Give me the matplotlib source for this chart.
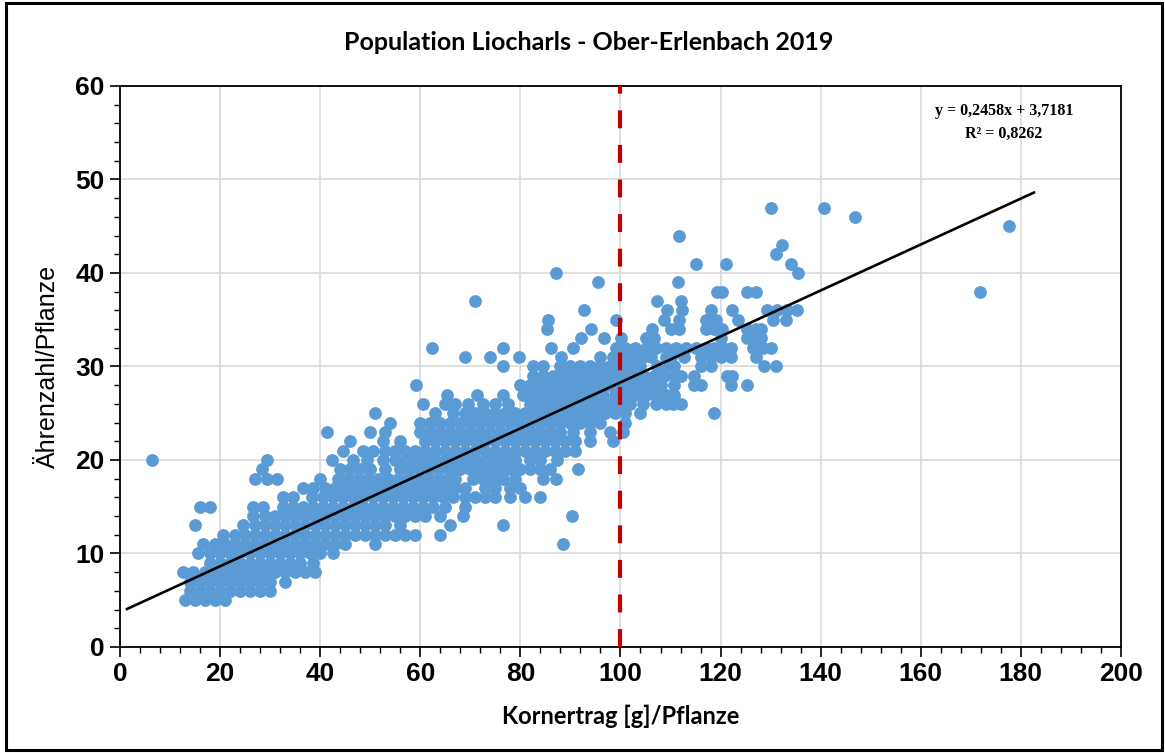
import numpy as np
import matplotlib
matplotlib.use("Agg")
import matplotlib.pyplot as plt
from matplotlib.patches import Rectangle
from matplotlib.ticker import MultipleLocator

# Kornertrag [g]/Pflanze je Ährenzahl (y-Wert steht im Namen)
x_05 = [13, 15, 17, 19, 21]
x_06 = [14, 16, 18, 20, 22, 24, 26, 28, 30]
x_07 = [14, 16, 18, 20, 22, 24, 26, 28, 30, 33]
x_08 = [12.5, 14.5, 17, 19, 21, 23, 25, 27, 29, 31, 33, 35, 37, 39]
x_09 = [18, 20, 22, 24, 26, 28, 30, 32, 34, 36, 38.5]
x_10 = [15.5, 18, 20, 22, 24, 26, 28, 30, 32, 34, 36, 38, 40, 42.5]
x_11 = [16.5, 19, 21, 23, 25, 27, 29, 31, 33, 35, 37, 39, 41, 43, 45, 51, 88.5]
x_12 = [20.5, 23, 25, 27, 29, 31, 33, 35, 37, 39, 41, 43, 45, 47, 49, 51, 53, 55, 57, 59, 64]
x_13 = [15, 24.5, 27, 29, 31, 33, 35, 37, 39, 41, 43, 45, 47, 49, 51, 53, 56, 66, 76.5]
x_14 = [26.5, 29, 31, 33, 35, 37, 39, 41, 43, 45, 47, 49, 51, 53, 55, 57, 59, 61, 64, 68.5, 90.3]
x_15 = [16, 18, 26.5, 28.5, 32.5, 34.5, 36.5, 38.5, 40.5, 42.5, 44.5, 46.5, 48.5, 50.5,
        52.5, 54.5, 56.5, 58.5, 60.5, 62.5, 65, 69]
x_16 = [32.5, 34.5, 38.3, 40.5, 42.5, 44.5, 46.5, 48.5, 50.5, 52.5, 54.5, 56.5, 58.5, 60.5,
        62.5, 64.5, 66.5, 69, 71, 73, 75, 78, 81, 84]
x_17 = [36.5, 38.5, 41, 43, 45, 47, 49, 51, 53, 55, 57, 59, 61, 63, 65, 67, 69, 73, 75, 78, 80]
x_18 = [27, 29.3, 31.3, 40, 43.5, 45.5, 47.5, 49.5, 51.5, 53.5, 55.5, 57.5, 59.5, 61.5, 63.5,
        65.5, 67, 70.5, 72.5, 74.5, 76.5, 79, 84.6, 87.2]
x_19 = [28.3, 44, 46, 48, 50, 53, 56, 58, 60, 62, 64, 66, 68, 70, 72, 74, 76, 78, 80, 82, 84,
        86, 91.5]
x_20 = [6.4, 29.3, 42.3, 46.6, 49.3, 52.6, 55, 57, 59, 61, 63, 65, 67, 69, 71, 73, 75, 77, 79,
        82, 84, 87.3]
x_21 = [44.6, 48.5, 50.6, 53, 55, 57, 59, 61, 63, 65, 67, 69, 71, 73, 75, 77, 79, 81, 83, 85,
        87, 89, 91]
x_22 = [46, 52.6, 56, 61, 63, 65, 67, 69, 71, 73, 75, 77, 79, 81, 83, 85, 87, 89, 91, 94, 98.6]
x_23 = [41.3, 50, 53, 60, 62, 64, 66, 68, 70, 72, 74, 76, 78, 80, 82, 84, 86, 88, 90.6, 94,
        98, 100.5]
x_24 = [54, 60, 62, 64, 66, 68, 70, 72, 74, 76, 78, 80, 82, 84, 86, 88, 90, 92, 94, 96, 101]
x_25 = [51, 63, 66.6, 69, 71, 73, 75, 77, 79, 81, 83, 85, 87, 89, 91, 93, 95, 97, 99, 101,
        104, 118.6]
x_26 = [60.6, 65, 67, 69.5, 72.6, 75, 77.5, 82, 84, 86, 88, 90, 92, 94, 96, 98, 100, 102,
        104.5, 107, 109, 110.5, 112]
x_27 = [65.3, 71.3, 76.6, 80.6, 82.6, 84.6, 86.6, 88.6, 90.6, 92.6, 94.6, 96.6, 99, 101, 103,
        105, 107, 109, 110.6]
x_28 = [59.2, 80, 82, 84, 86, 88, 90, 92, 94, 96, 98, 100, 102, 104, 106, 108, 110.6, 114.6,
        116, 122, 125.3]
x_29 = [82.6, 84.6, 86.6, 88.6, 90.6, 92.6, 94.6, 96.6, 98.6, 100.6, 102.6, 104.6, 106.6,
        108.6, 110.6, 112, 114.6, 121.2, 122.2]
x_30 = [76.6, 82.6, 84.6, 88, 90, 92, 94, 96, 98, 100, 102, 104, 107.2, 109, 110.6, 116, 118,
        128.6, 131]
x_31 = [68.9, 73.9, 79.7, 88.2, 96, 98.6, 100.6, 102.6, 104.5, 106, 109, 110, 112.6, 116, 118,
        120, 122, 127]
x_32 = [62.3, 76.6, 86.2, 90.6, 99.2, 101, 103, 105, 107, 109, 111, 113, 115, 117, 118.6,
        120.5, 122, 126.5, 128.5, 130]
x_33 = [92.2, 96.7, 100.2, 105, 106.6, 120, 125.3, 127, 128]
x_34 = [85.3, 94.2, 106.3, 110, 111.6, 117, 118.6, 120.2, 125.3, 127, 128]
x_35 = [85.6, 99.1, 108.6, 111.6, 117, 119, 123.5, 130.5, 133]
x_36 = [92.7, 109.2, 112.2, 118, 122.2, 129.2, 131.2, 133.2, 135.2]
x_37 = [71, 107.2, 112]
x_38 = [119.3, 120.3, 125.3, 127, 171.8]
x_39 = [95.6, 111.4]
x_40 = [87.2, 135.5]
x_41 = [115, 121, 134]
x_42 = [131]
x_43 = [132.2]
x_44 = [111.6]
x_45 = [177.6]
x_46 = [146.9]
x_47 = [130, 140.7]

# Trendlinie laut Diagramm
slope = 0.2458
intercept = 3.7181
r2 = 0.8262
grenze = 100

rows = {5: x_05, 6: x_06, 7: x_07, 8: x_08, 9: x_09, 10: x_10, 11: x_11, 12: x_12,
        13: x_13, 14: x_14, 15: x_15, 16: x_16, 17: x_17, 18: x_18, 19: x_19, 20: x_20,
        21: x_21, 22: x_22, 23: x_23, 24: x_24, 25: x_25, 26: x_26, 27: x_27, 28: x_28,
        29: x_29, 30: x_30, 31: x_31, 32: x_32, 33: x_33, 34: x_34, 35: x_35, 36: x_36,
        37: x_37, 38: x_38, 39: x_39, 40: x_40, 41: x_41, 42: x_42, 43: x_43, 44: x_44,
        45: x_45, 46: x_46, 47: x_47}
xs = np.concatenate([np.array(v, float) for v in rows.values()])
ys = np.concatenate([np.full(len(v), k, float) for k, v in rows.items()])

fig = plt.figure(figsize=(11.65, 7.53), dpi=100)
ax = fig.add_axes([0.103, 0.1408, 0.8592, 0.745])

ax.scatter(xs, ys, s=85, color="#5B9BD5", linewidths=0, zorder=3)

xl = np.array([xs.min() - 5, xs.max() + 5])
ax.plot(xl, slope * xl + intercept, color="black", lw=1.9, zorder=4)

ax.plot([grenze, grenze], [0, 60], color="#C00000", lw=3, dashes=(4.3, 4),
        zorder=5, solid_capstyle="butt")

ax.set_xlim(0, 200)
ax.set_ylim(0, 60)
ax.xaxis.set_major_locator(MultipleLocator(20))
ax.xaxis.set_minor_locator(MultipleLocator(4))
ax.yaxis.set_major_locator(MultipleLocator(10))
ax.yaxis.set_minor_locator(MultipleLocator(2))
ax.grid(True, which="major", color="#D9D9D9", lw=1.2, zorder=0)
ax.set_axisbelow(True)

for sp in ax.spines.values():
    sp.set_linewidth(1.3)
ax.tick_params(which="major", length=7, width=1.2, direction="out", pad=4)
ax.tick_params(which="minor", length=4, width=1.0, direction="out")
for lab in ax.get_xticklabels() + ax.get_yticklabels():
    lab.set_fontfamily("Liberation Sans")
    lab.set_fontweight("bold")
    lab.set_fontsize(19)

ax.set_xlabel("Kornertrag [g]/Pflanze", fontfamily="Lato", fontweight="bold",
              fontsize=17, labelpad=13)
ax.set_ylabel("Ährenzahl/Pflanze", fontfamily="Liberation Sans", fontsize=18,
              labelpad=11)
fig.text(0.505, 0.944, "Population Liocharls - Ober-Erlenbach 2019", ha="center",
         va="center", fontfamily="Lato", fontweight="bold", fontsize=18)

ax.text(0.883, 0.955, "y = %sx + %s" % (str(slope).replace(".", ","),
        str(intercept).replace(".", ",")), transform=ax.transAxes, ha="center",
        va="center", fontfamily="Liberation Serif", fontweight="bold", fontsize=11.5)
ax.text(0.883, 0.914, "R² = %s" % str(r2).replace(".", ","), transform=ax.transAxes,
        ha="center", va="center", fontfamily="Liberation Serif", fontweight="bold",
        fontsize=11.5)

fig.patches.append(Rectangle((0.005, 0.004), 0.992, 0.992, transform=fig.transFigure,
                             fill=False, edgecolor="black", lw=2.2))

fig.savefig("out.png", dpi=100)
